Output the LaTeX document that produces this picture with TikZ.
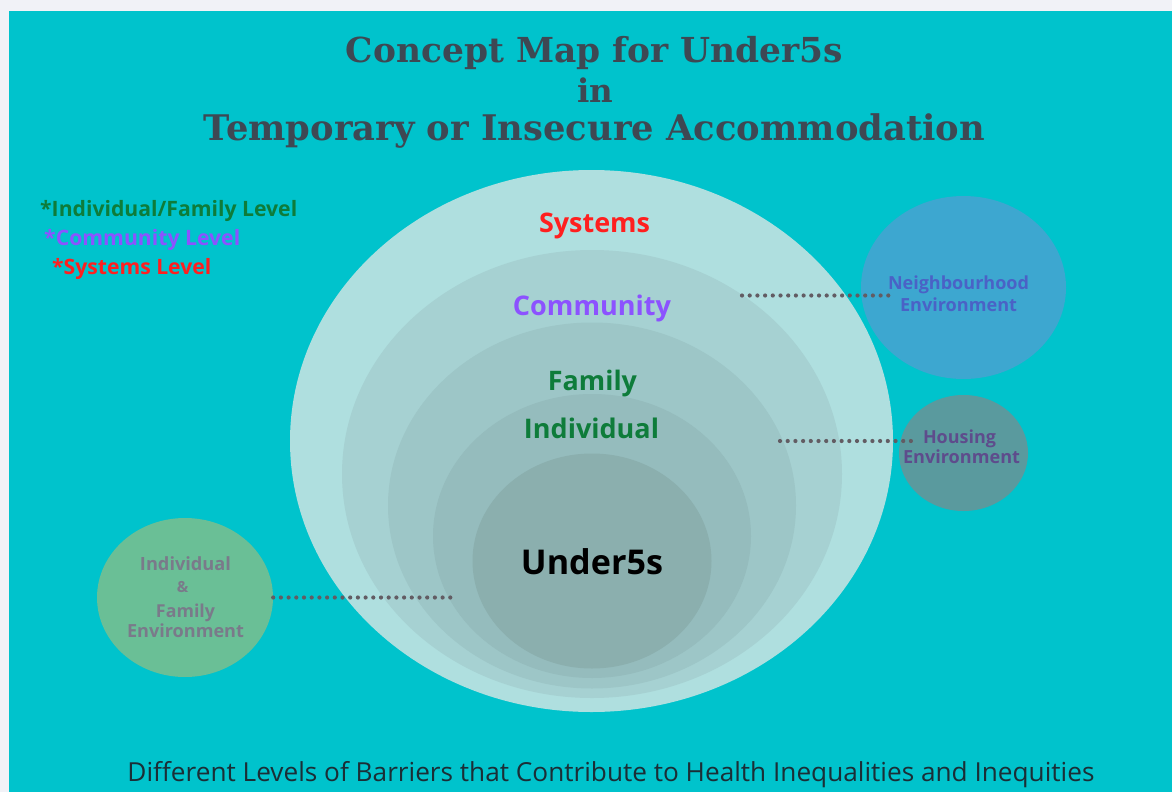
\documentclass[tikz,border=0pt]{standalone}
\usepackage{fontspec}
\usetikzlibrary{shapes.geometric}
\newfontfamily\osans{Open Sans}
\newfontfamily\dserif{DejaVu Serif}
\definecolor{bg}{HTML}{00C3CC}
\definecolor{margincol}{HTML}{F1F2F7}
\definecolor{ea}{HTML}{AFDFDF}
\definecolor{eb}{HTML}{A6D1D2}
\definecolor{ec}{HTML}{9DC6C7}
\definecolor{ed}{HTML}{95BCBD}
\definecolor{ee}{HTML}{8BAFAE}
\definecolor{nbh}{HTML}{3DA7D0}
\definecolor{hous}{HTML}{5A9A9E}
\definecolor{ife}{HTML}{6ABF96}
\definecolor{sysred}{HTML}{FF1F1F}
\definecolor{compur}{HTML}{8C52FF}
\definecolor{famgrn}{HTML}{0E7C3A}
\definecolor{titlec}{HTML}{3E4853}
\definecolor{dotc}{HTML}{625C63}
\definecolor{nbtxt}{HTML}{4A62C6}
\definecolor{hotxt}{HTML}{5E4C8C}
\definecolor{iftxt}{HTML}{7A7A8A}
\definecolor{btm}{HTML}{1B2E36}
\newcommand{\fitw}[2]{\resizebox{#1pt}{!}{#2}}
\tikzset{
  blob/.style={ellipse, draw=none, inner sep=0pt},
  lbl/.style={inner sep=0pt, font=\osans\bfseries},
  ttl/.style={inner sep=0pt, font=\dserif\bfseries, text=titlec},
  dotline/.style={dotc, line width=4.2pt, line cap=round, dash pattern=on 0pt off 7.7pt}
}
\begin{document}
\begin{tikzpicture}[x=1pt,y=-1pt]
\useasboundingbox (0,0) rectangle (1172,792);
\fill[margincol] (0,0) rectangle (1172,792);
\fill[bg] (9,11) rectangle (1172,792);
% title
\node[ttl] (t1) at (594.5,53) {\fitw{497}{Concept Map for Under5s}};
\node[ttl] (t2) at (595,90.5) {\fitw{36}{in}};
\node[ttl] (t3) at (594.5,131) {\fitw{781}{Temporary or Insecure Accommodation}};
% legend
\node[lbl, text=famgrn, anchor=west] (lg1) at (40,211) {\fitw{257}{*Individual/Family Level}};
\node[lbl, text=compur, anchor=west] (lg2) at (44,240) {\fitw{196}{*Community Level}};
\node[lbl, text=sysred, anchor=west] (lg3) at (52,269) {\fitw{159}{*Systems Level}};
% nested ellipses
\node[blob, fill=ea, minimum width=603pt, minimum height=542pt] (sys) at (591.5,441) {};
\node[blob, fill=eb, minimum width=500pt, minimum height=448pt] (com) at (592,474) {};
\node[blob, fill=ec, minimum width=408pt, minimum height=366pt] (fam) at (592,505.5) {};
\node[blob, fill=ed, minimum width=318pt, minimum height=284pt] (ind) at (592,536) {};
\node[blob, fill=ee, minimum width=239pt, minimum height=215pt] (u5) at (592,561) {};
\node[lbl, text=sysred] (lsys) at (594.5,226) {\fitw{111}{Systems}};
\node[lbl, text=compur] (lcom) at (592,308) {\fitw{158}{Community}};
\node[lbl, text=famgrn] (lfam) at (592.5,384) {\fitw{89}{Family}};
\node[lbl, text=famgrn] (lind) at (591.5,428) {\fitw{135}{Individual}};
\node[lbl, text=black] (lu5) at (592,562) {\fitw{142}{Under5s}};
% side circles
\node[blob, fill=nbh, minimum width=205pt, minimum height=183pt] (nb) at (963.5,287.5) {};
\node[blob, fill=hous, minimum width=129pt, minimum height=116pt] (ho) at (963.5,453) {};
\node[blob, fill=ife, minimum width=176pt, minimum height=159pt] (if) at (185,597.5) {};
% dotted connectors
\coordinate (nbA) at (742,295.5);
\coordinate (nbB) at (893,295.5);
\coordinate (hoA) at (780,441);
\coordinate (hoB) at (913,441);
\coordinate (ifB) at (451,597.5);
\draw[dotline] (nbA) -- (nbB);
\draw[dotline] (hoA) -- (hoB);
\draw[dotline] (if.east) -- (ifB);
% side labels
\node[lbl, text=nbtxt] (nb1) at (958.5,285) {\fitw{141}{Neighbourhood}};
\node[lbl, text=nbtxt] (nb2) at (958.5,305) {\fitw{117}{Environment}};
\node[lbl, text=hotxt] (ho1) at (959.5,439) {\fitw{73}{Housing}};
\node[lbl, text=hotxt] (ho2) at (961.5,457) {\fitw{117}{Environment}};
\node[lbl, text=iftxt] (if1) at (185.5,564) {\fitw{91}{Individual}};
\node[lbl, text=iftxt] (if2) at (182.5,587) {\fitw{11.5}{\&}};
\node[lbl, text=iftxt] (if3) at (185.5,613) {\fitw{59}{Family}};
\node[lbl, text=iftxt] (if4) at (185.5,631) {\fitw{117}{Environment}};
% bottom caption
\node[inner sep=0pt, font=\osans, text=btm] (cap) at (611,775) {\fitw{967}{Different Levels of Barriers that Contribute to Health Inequalities and Inequities}};
\end{tikzpicture}
\end{document}
